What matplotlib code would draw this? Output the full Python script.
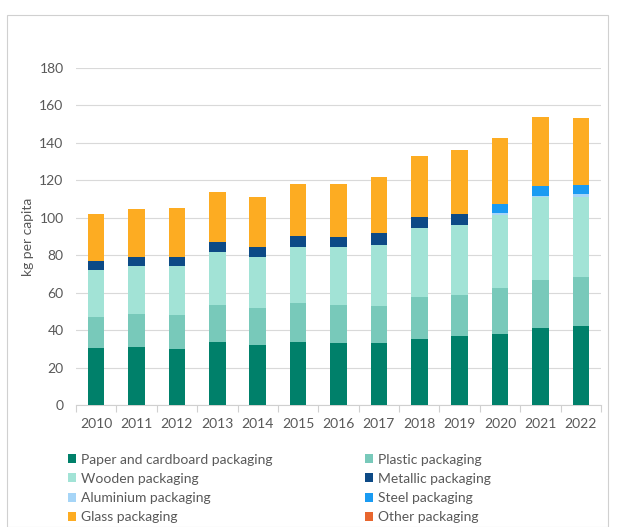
import matplotlib
matplotlib.use("Agg")
import matplotlib.pyplot as plt
from matplotlib.patches import Rectangle
import numpy as np

plt.rcParams['font.family'] = ['Lato', 'DejaVu Sans']

years = ['2010', '2011', '2012', '2013', '2014', '2015', '2016',
         '2017', '2018', '2019', '2020', '2021', '2022']

paper = [30.3, 31.1, 30.1, 33.5, 32.2, 33.5, 33.3, 32.9, 35.3, 37.0, 37.8, 41.1, 42.2]
plastic = [16.7, 17.3, 18.0, 19.9, 19.4, 20.8, 20.3, 20.0, 22.6, 21.8, 24.9, 25.7, 26.0]
wooden = [25.1, 26.0, 26.3, 28.3, 27.3, 30.3, 31.0, 32.4, 36.5, 37.2, 38.8, 44.1, 43.1]
metallic = [5.0, 4.8, 4.8, 5.4, 5.3, 5.8, 5.3, 6.4, 6.2, 6.0, 0, 0, 0]
aluminium = [0, 0, 0, 0, 0, 0, 0, 0, 0, 0, 0.9, 0.7, 1.4]
steel = [0, 0, 0, 0, 0, 0, 0, 0, 0, 0, 5.1, 5.3, 5.0]
glass = [24.8, 25.3, 25.9, 26.5, 26.7, 27.6, 28.0, 30.3, 32.6, 34.4, 35.1, 36.7, 35.6]
other = [0, 0, 0, 0, 0, 0, 0, 0, 0, 0, 0, 0, 0]

series = [
    ("Paper and cardboard packaging", paper, "#00806a"),
    ("Plastic packaging", plastic, "#78c9ba"),
    ("Wooden packaging", wooden, "#a2e3d6"),
    ("Metallic packaging", metallic, "#0d4a86"),
    ("Aluminium packaging", aluminium, "#a6d5f7"),
    ("Steel packaging", steel, "#1a9bf2"),
    ("Glass packaging", glass, "#fdac22"),
    ("Other packaging", other, "#e8662e"),
]

yticks = [0, 20, 40, 60, 80, 100, 120, 140, 160, 180]

W, H = 619, 527
fig = plt.figure(figsize=(W / 100, H / 100), dpi=100)
fig.patches.append(Rectangle((7 / W, 0), (608 - 7) / W, 1 - 14.5 / H,
                             transform=fig.transFigure, fill=False,
                             edgecolor="#d0d0d0", linewidth=0.8))

ax = fig.add_axes([76 / W, 1 - 405 / H, (601 - 76) / W, (405 - 68) / H])
x = np.arange(len(years))
bottom = np.zeros(len(years))
handles = {}
for name, vals, col in series:
    v = np.array(vals, dtype=float)
    b = ax.bar(x, v, 0.41, bottom=bottom, color=col, label=name, zorder=3)
    handles[name] = b
    bottom += v

ax.set_xlim(-0.5, len(years) - 0.5)
ax.set_ylim(0, 180)
ax.set_yticks(yticks)
ax.set_yticklabels([str(t) for t in yticks])
ax.set_xticks(x)
ax.set_xticklabels(years)
ax.set_xticks(np.arange(-0.5, len(years), 1.0), minor=True)
ax.tick_params(axis='x', which='major', length=0, pad=9, labelsize=10, labelcolor="#595959")
ax.tick_params(axis='x', which='minor', length=5, color="#d0d0d0", width=0.8)
ax.tick_params(axis='y', length=0, pad=9, labelsize=10, labelcolor="#595959")
ax.grid(axis='y', color="#d9d9d9", linewidth=0.8, zorder=0)
for s in ['top', 'right', 'left']:
    ax.spines[s].set_visible(False)
ax.spines['bottom'].set_color("#d0d0d0")
ax.spines['bottom'].set_linewidth(0.8)
ax.set_ylabel("kg per capita", fontsize=10, color="#595959", labelpad=4)

order = ["Paper and cardboard packaging", "Wooden packaging", "Aluminium packaging",
         "Glass packaging", "Plastic packaging", "Metallic packaging",
         "Steel packaging", "Other packaging"]
leg = fig.legend([handles[n] for n in order], order, ncol=2, loc='upper left',
                 bbox_to_anchor=(62 / W, 1 - 448 / H), frameon=False,
                 fontsize=10, handlelength=0.6, handleheight=0.6,
                 handletextpad=0.4, labelspacing=0.52, columnspacing=6.6,
                 borderaxespad=0)
for t in leg.get_texts():
    t.set_color("#595959")

fig.savefig("out.png", dpi=100)
